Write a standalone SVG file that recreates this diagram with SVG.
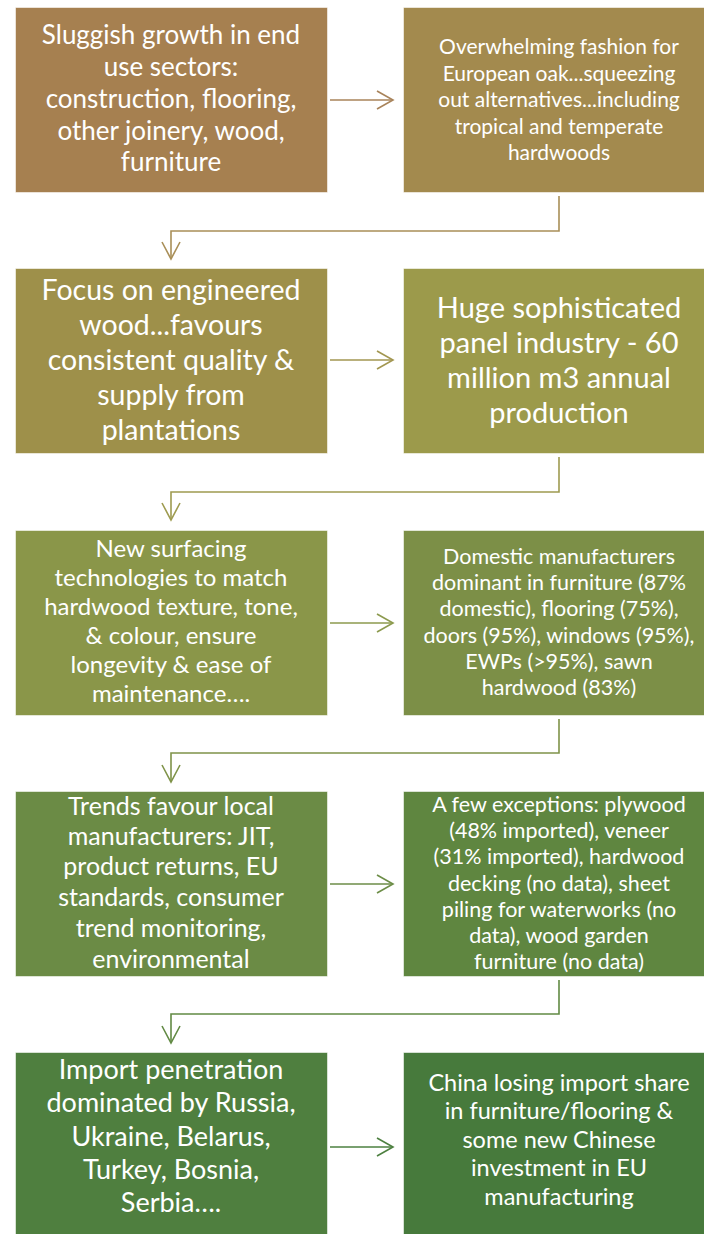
<svg xmlns="http://www.w3.org/2000/svg" width="704" height="1234" viewBox="0 0 704 1234">
<style>
.box{stroke:#ffffff;stroke-opacity:0.55;stroke-width:1}
text{font-family:Lato,"Liberation Sans",sans-serif;fill:#ffffff;text-anchor:middle}
.c{fill:none;stroke-width:1.6;stroke-linejoin:miter}
</style>
<rect width="704" height="1234" fill="#ffffff"/>
<g id="connectors">
  <g stroke="#A8835A" class="c"><path d="M330,100 H393"/><path d="M377,91 L393,100 L377,109"/></g>
  <g stroke="#A98F58" class="c"><path d="M559,196 V231 H171 V259"/><path d="M162,242 L171,259 L180,242"/></g>
  <g stroke="#A29650" class="c"><path d="M330,360 H393"/><path d="M377,351 L393,360 L377,369"/></g>
  <g stroke="#9E9B50" class="c"><path d="M559,457 V492 H171 V520"/><path d="M162,503 L171,520 L180,503"/></g>
  <g stroke="#8C9A4E" class="c"><path d="M330,623 H393"/><path d="M377,614 L393,623 L377,632"/></g>
  <g stroke="#7F9349" class="c"><path d="M559,719 V753 H171 V782"/><path d="M162,765 L171,782 L180,765"/></g>
  <g stroke="#6C8D47" class="c"><path d="M330,884 H393"/><path d="M377,875 L393,884 L377,893"/></g>
  <g stroke="#628A44" class="c"><path d="M559,980 V1014 H171 V1043"/><path d="M162,1026 L171,1043 L180,1026"/></g>
  <g stroke="#4D8040" class="c"><path d="M330,1147 H393"/><path d="M377,1138 L393,1147 L377,1156"/></g>
</g>
<g id="n1">
  <rect class="box" x="15.5" y="7.5" width="312" height="185" fill="#A68050"/>
  <text font-size="26"><tspan x="171" y="44">Sluggish growth in end</tspan><tspan x="171" y="76">use sectors:</tspan><tspan x="171" y="108">construction, flooring,</tspan><tspan x="171" y="140">other joinery, wood,</tspan><tspan x="171" y="171">furniture</tspan></text>
</g>
<g id="n2">
  <rect class="box" x="403.5" y="7.5" width="312" height="185" fill="#A38A4E"/>
  <text font-size="21"><tspan x="559" y="54">Overwhelming fashion for</tspan><tspan x="559" y="81">European oak...squeezing</tspan><tspan x="559" y="107">out alternatives...including</tspan><tspan x="559" y="134">tropical and temperate</tspan><tspan x="559" y="160">hardwoods</tspan></text>
</g>
<g id="n3">
  <rect class="box" x="15.5" y="268.5" width="312" height="185" fill="#9E904A"/>
  <text font-size="28.5"><tspan x="171" y="300">Focus on engineered</tspan><tspan x="171" y="335">wood...favours</tspan><tspan x="171" y="370">consistent quality &amp;</tspan><tspan x="171" y="405">supply from</tspan><tspan x="171" y="440">plantations</tspan></text>
</g>
<g id="n4">
  <rect class="box" x="403.5" y="268.5" width="312" height="185" fill="#9C9A4B"/>
  <text font-size="29"><tspan x="559" y="318">Huge sophisticated</tspan><tspan x="559" y="353">panel industry - 60</tspan><tspan x="559" y="388">million m3 annual</tspan><tspan x="559" y="423">production</tspan></text>
</g>
<g id="n5">
  <rect class="box" x="15.5" y="530.5" width="312" height="185" fill="#8A9649"/>
  <text font-size="24"><tspan x="171" y="557">New surfacing</tspan><tspan x="171" y="586">technologies to match</tspan><tspan x="171" y="615">hardwood texture, tone,</tspan><tspan x="171" y="644">&amp; colour, ensure</tspan><tspan x="171" y="673">longevity &amp; ease of</tspan><tspan x="171" y="702">maintenance….</tspan></text>
</g>
<g id="n6">
  <rect class="box" x="403.5" y="530.5" width="312" height="185" fill="#7C8F47"/>
  <text font-size="21.5"><tspan x="559" y="564">Domestic manufacturers</tspan><tspan x="559" y="590">dominant in furniture (87%</tspan><tspan x="559" y="616">domestic), flooring (75%),</tspan><tspan x="559" y="643">doors (95%), windows (95%),</tspan><tspan x="559" y="669">EWPs (&gt;95%), sawn</tspan><tspan x="559" y="695">hardwood (83%)</tspan></text>
</g>
<g id="n7">
  <rect class="box" x="15.5" y="791.5" width="312" height="185" fill="#6B8B45"/>
  <text font-size="25"><tspan x="171" y="815">Trends favour local</tspan><tspan x="171" y="845">manufacturers: JIT,</tspan><tspan x="171" y="875">product returns, EU</tspan><tspan x="171" y="906">standards, consumer</tspan><tspan x="171" y="937">trend monitoring,</tspan><tspan x="171" y="968">environmental</tspan></text>
</g>
<g id="n8">
  <rect class="box" x="403.5" y="791.5" width="312" height="185" fill="#5F8640"/>
  <text font-size="21.5"><tspan x="559" y="812">A few exceptions: plywood</tspan><tspan x="559" y="838">(48% imported), veneer</tspan><tspan x="559" y="864">(31% imported), hardwood</tspan><tspan x="559" y="891">decking (no data), sheet</tspan><tspan x="559" y="917">piling for waterworks (no</tspan><tspan x="559" y="943">data), wood garden</tspan><tspan x="559" y="969">furniture (no data)</tspan></text>
</g>
<g id="n9">
  <rect class="box" x="15.5" y="1052.5" width="312" height="190" fill="#4F7F3F"/>
  <text font-size="27"><tspan x="171" y="1079">Import penetration</tspan><tspan x="171" y="1112">dominated by Russia,</tspan><tspan x="171" y="1146">Ukraine, Belarus,</tspan><tspan x="171" y="1179">Turkey, Bosnia,</tspan><tspan x="171" y="1212">Serbia….</tspan></text>
</g>
<g id="n10">
  <rect class="box" x="403.5" y="1052.5" width="312" height="190" fill="#477A3C"/>
  <text font-size="23.5"><tspan x="559" y="1091">China losing import share</tspan><tspan x="559" y="1119">in furniture/flooring &amp;</tspan><tspan x="559" y="1148">some new Chinese</tspan><tspan x="559" y="1176">investment in EU</tspan><tspan x="559" y="1205">manufacturing</tspan></text>
</g>
</svg>
